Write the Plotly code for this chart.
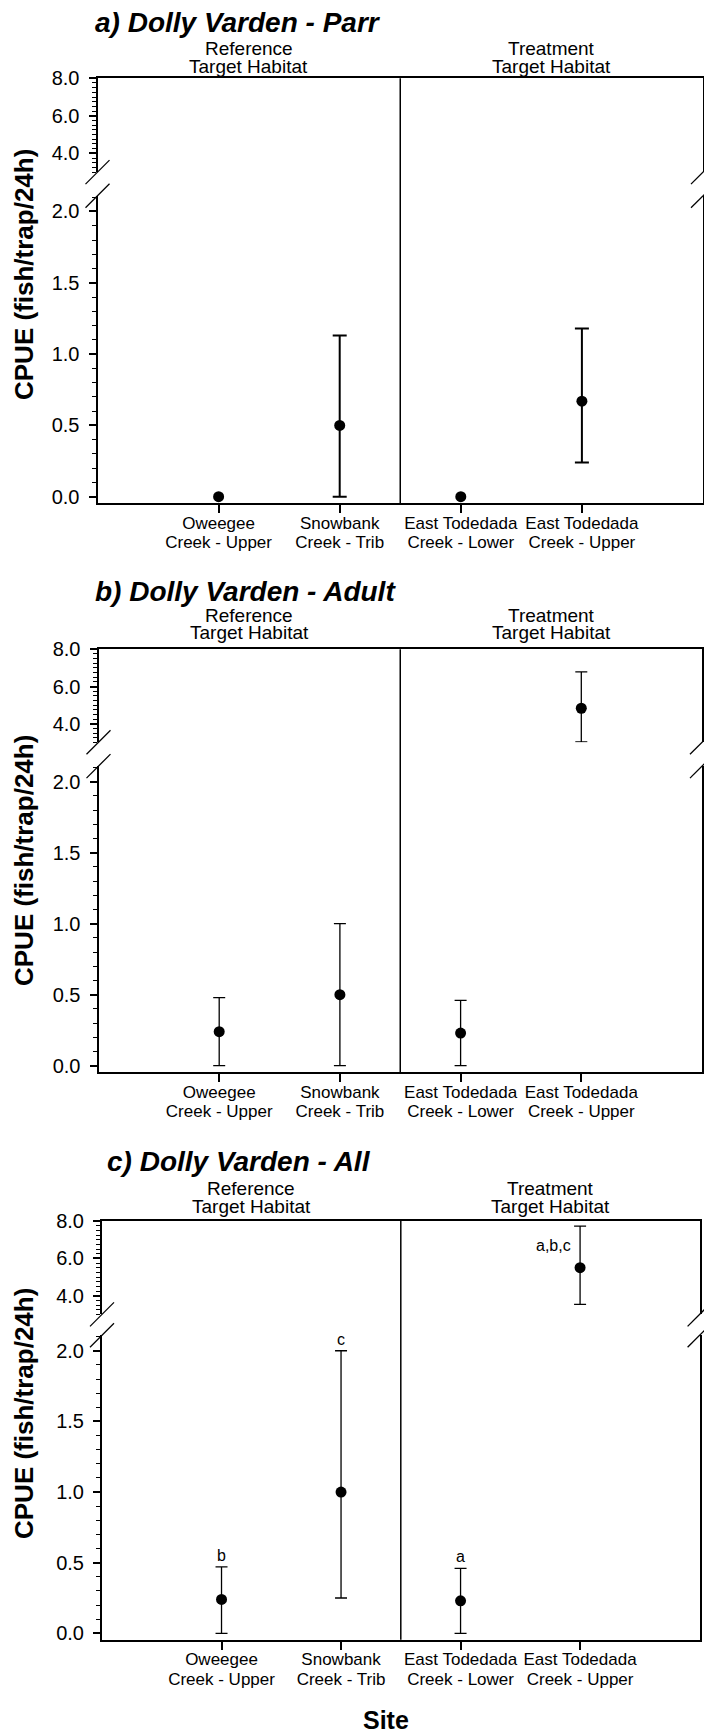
import plotly.graph_objects as go

# ---- data ----
site_pos = [0, 1, 2, 3]
site_line1 = ["Oweegee", "Snowbank", "East Todedada", "East Todedada"]
site_line2 = ["Creek - Upper", "Creek - Trib", "Creek - Lower", "Creek - Upper"]
habitat_labels = [["Reference", "Target Habitat"], ["Treatment", "Target Habitat"]]
panel_titles = ["a) Dolly Varden - Parr", "b) Dolly Varden - Adult", "c) Dolly Varden - All"]

parr_mean = [0.0, 0.50, 0.0, 0.67]
parr_upper = [None, 1.13, None, 1.18]
parr_lower = [None, 0.0, None, 0.24]

adult_mean = [0.24, 0.50, 0.23, 4.83]
adult_upper = [0.48, 1.00, 0.46, 6.79]
adult_lower = [0.0, 0.0, 0.0, 3.02]

all_mean = [0.24, 1.00, 0.23, 5.50]
all_upper = [0.47, 2.00, 0.46, 7.73]
all_lower = [0.0, 0.25, 0.0, 3.54]
all_letters = ["b", "c", "a", "a,b,c"]

ylabel = "CPUE (fish/trap/24h)"
xlabel = "Site"

# ---- layout geometry (pixels in a 704 x 1735 page) ----
W, H = 704, 1735
FONT = "Liberation Sans, Arial, sans-serif"
BREAK = 2.5          # values above this live on the upper (broken) segment
UPPER_RANGE = [3.0, 8.0]
LOWER_RANGE = [-0.045, 2.11]

panels = [
    dict(mean=parr_mean, up=parr_upper, lo=parr_lower, letters=None, ew=2.0, cap=7,
         x=(97.5, 703), top=78.3, ubot=172.1, ltop=195.8, lbot=503.1,
         title=(93, 22), head_y=57, ytitle_y=275),
    dict(mean=adult_mean, up=adult_upper, lo=adult_lower, letters=None, ew=1.3, cap=6,
         x=(98.5, 702), top=649.3, ubot=742.3, ltop=766.1, lbot=1072.1,
         title=(93, 591), head_y=624, ytitle_y=861),
    dict(mean=all_mean, up=all_upper, lo=all_lower, letters=all_letters, ew=1.3, cap=6,
         x=(102, 699.6), top=1221, ubot=1314.4, ltop=1335.2, lbot=1639.7,
         title=(105, 1161), head_y=1197.5, ytitle_y=1414),
]


def px_x(v):
    return v / W


def px_y(v):
    return 1 - v / H


fig = go.Figure()
shapes, annotations = [], []
black = dict(family=FONT, color="black")

for i, p in enumerate(panels):
    lo_id, up_id, l2_id = 2 * i + 1, 2 * i + 2, 7 + i
    xl, xr = p["x"]
    xdom = [px_x(xl), px_x(xr)]

    for seg_id, upper_seg in ((lo_id, False), (up_id, True)):
        seg = [k for k, m in enumerate(p["mean"]) if (m > BREAK) == upper_seg]
        with_err = [k for k in seg if p["up"][k] is not None]
        no_err = [k for k in seg if p["up"][k] is None]
        # always give the segment a trace so its axes are drawn
        fig.add_trace(go.Scatter(
            x=[site_pos[k] for k in with_err], y=[p["mean"][k] for k in with_err],
            mode="markers", marker=dict(size=11, color="black"),
            error_y=dict(type="data", symmetric=False,
                         array=[p["up"][k] - p["mean"][k] for k in with_err],
                         arrayminus=[p["mean"][k] - p["lo"][k] for k in with_err],
                         color="black", thickness=p["ew"], width=p["cap"]),
            xaxis=f"x{seg_id}", yaxis=f"y{seg_id}", showlegend=False
        ))
        if no_err:
            fig.add_trace(go.Scatter(
                x=[site_pos[k] for k in no_err], y=[p["mean"][k] for k in no_err],
                mode="markers", marker=dict(size=11, color="black"),
                xaxis=f"x{seg_id}", yaxis=f"y{seg_id}", showlegend=False
            ))
    # carrier for the second line of the site labels
    fig.add_trace(go.Scatter(x=[], y=[], xaxis=f"x{l2_id}", yaxis=f"y{lo_id}",
                             showlegend=False))

    axis_common = dict(showgrid=False, zeroline=False, color="black", automargin=False,
                       linecolor="black", linewidth=2)
    fig.update_layout({
        f"xaxis{lo_id}": dict(axis_common, domain=xdom, range=[-1, 4], anchor=f"y{lo_id}",
                              showline=True, ticks="outside", ticklen=8, tickwidth=1.5,
                              tickvals=site_pos, ticktext=site_line1,
                              ticklabelstandoff=-5,
                              tickfont=dict(black, size=17)),
        f"xaxis{l2_id}": dict(axis_common, domain=xdom, range=[-1, 4], anchor=f"y{lo_id}",
                              overlaying=f"x{lo_id}", showline=False, ticks="",
                              tickvals=site_pos, ticktext=site_line2,
                              ticklabelstandoff=27,
                              tickfont=dict(black, size=17)),
        f"xaxis{up_id}": dict(axis_common, domain=xdom, range=[-1, 4], anchor=f"y{up_id}",
                              side="top", showline=True, ticks="", showticklabels=False),
        f"yaxis{lo_id}": dict(axis_common, domain=[px_y(p["lbot"]), px_y(p["ltop"])],
                              range=LOWER_RANGE, anchor=f"x{lo_id}", showline=True, mirror=True,
                              ticks="outside", ticklen=7, tickwidth=1.5,
                              tickvals=[0, 0.5, 1.0, 1.5, 2.0], tickformat=".1f",
                              ticklabelstandoff=5,
                              tickfont=dict(black, size=20),
                              minor=dict(dtick=0.1, tick0=0, ticks="outside", ticklen=4,
                                         tickwidth=1, tickcolor="black", showgrid=False)),
        f"yaxis{up_id}": dict(axis_common, domain=[px_y(p["ubot"]), px_y(p["top"])],
                              range=UPPER_RANGE, anchor=f"x{up_id}", showline=True, mirror=True,
                              ticks="outside", ticklen=7, tickwidth=1.5,
                              tickvals=[4, 6, 8], tickformat=".1f",
                              ticklabelstandoff=5,
                              tickfont=dict(black, size=20),
                              minor=dict(dtick=0.25, tick0=0, ticks="outside", ticklen=4,
                                         tickwidth=1, tickcolor="black", showgrid=False)),
    })

    # reference / treatment divider
    shapes.append(dict(type="line", xref=f"x{lo_id}", yref="paper", x0=1.5, x1=1.5,
                       y0=px_y(p["lbot"]), y1=px_y(p["top"]),
                       line=dict(color="black", width=1.5)))

    # axis break slashes on both sides
    for cx in (xl, xr):
        for cy in (p["ubot"], p["ltop"]):
            shapes.append(dict(type="line", xref="paper", yref="paper",
                               x0=px_x(cx - 12), y0=px_y(cy + 12),
                               x1=px_x(cx + 12), y1=px_y(cy - 12),
                               line=dict(color="black", width=1.3)))

    # panel title
    tx, ty = p["title"]
    annotations.append(dict(text=f"<b><i>{panel_titles[i]}</i></b>", xref="paper", yref="paper",
                            x=px_x(tx), y=px_y(ty), xanchor="left", yanchor="middle",
                            showarrow=False, font=dict(black, size=28)))

    # habitat headers (two tight lines each)
    divider_px = xl + (xr - xl) * (1.5 + 1) / 5
    for hx, lines in zip(((xl + divider_px) / 2, (divider_px + xr) / 2), habitat_labels):
        for j, line in enumerate(lines):
            annotations.append(dict(text=line, xref="paper", yref="paper",
                                    x=px_x(hx), y=px_y(p["head_y"] + (j - 0.5) * 18),
                                    xanchor="center", yanchor="middle", showarrow=False,
                                    font=dict(black, size=19)))

    # y axis title
    annotations.append(dict(text=f"<b>{ylabel}</b>", xref="paper", yref="paper",
                            x=px_x(24), y=px_y(p["ytitle_y"]), textangle=-90,
                            xanchor="center", yanchor="middle", showarrow=False,
                            font=dict(black, size=26)))

    # significance letters
    if p["letters"]:
        for k, letter in enumerate(p["letters"]):
            upper_seg = p["mean"][k] > BREAK
            seg_id = up_id if upper_seg else lo_id
            if upper_seg:
                annotations.append(dict(text=letter, x=site_pos[k], y=p["up"][k],
                                        xref=f"x{seg_id}", yref=f"y{seg_id}",
                                        xanchor="right", yanchor="top", xshift=-7, yshift=-9,
                                        showarrow=False, font=dict(black, size=16)))
            else:
                annotations.append(dict(text=letter, x=site_pos[k], y=p["up"][k],
                                        xref=f"x{seg_id}", yref=f"y{seg_id}",
                                        xanchor="center", yanchor="bottom", yshift=1,
                                        showarrow=False, font=dict(black, size=16)))

annotations.append(dict(text=f"<b>{xlabel}</b>", xref="paper", yref="paper",
                        x=px_x(386), y=px_y(1720), xanchor="center", yanchor="middle",
                        showarrow=False, font=dict(black, size=25)))

fig.update_layout(
    width=W, height=H,
    margin=dict(l=0, r=0, t=0, b=0, pad=0),
    paper_bgcolor="white", plot_bgcolor="white",
    font=black,
    shapes=shapes, annotations=annotations,
    showlegend=False,
)

fig.write_html("out.html", config={"displayModeBar": False},
               post_script="document.body.style.margin='0';"
                           "document.body.style.overflow='hidden';")
